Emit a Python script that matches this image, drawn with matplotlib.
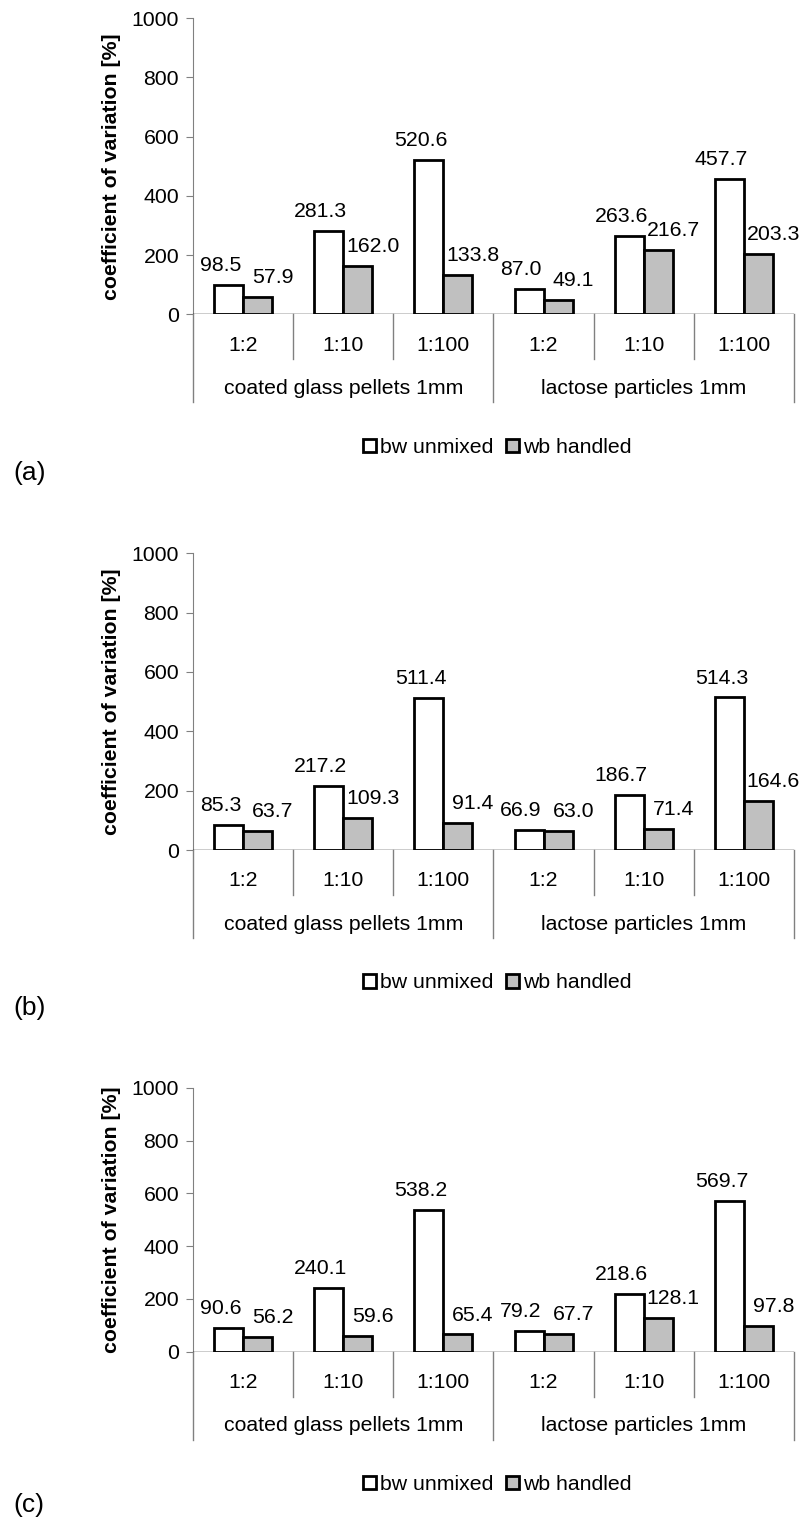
import numpy as np
import matplotlib
matplotlib.use("Agg")
import matplotlib.pyplot as plt
from matplotlib.patches import Patch

plt.rcParams['font.family'] = ['Liberation Sans', 'DejaVu Sans']

categories = ["1:2", "1:10", "1:100", "1:2", "1:10", "1:100"]
groups = ["coated glass pellets 1mm", "lactose particles 1mm"]
series_names = ["bw unmixed", "wb handled"]
panel_names = ["(a)", "(b)", "(c)"]

bw_a = [98.5, 281.3, 520.6, 87.0, 263.6, 457.7]
wb_a = [57.9, 162.0, 133.8, 49.1, 216.7, 203.3]
bw_b = [85.3, 217.2, 511.4, 66.9, 186.7, 514.3]
wb_b = [63.7, 109.3, 91.4, 63.0, 71.4, 164.6]
bw_c = [90.6, 240.1, 538.2, 79.2, 218.6, 569.7]
wb_c = [56.2, 59.6, 65.4, 67.7, 128.1, 97.8]

W, H = 806, 1533
fig = plt.figure(figsize=(W / 100, H / 100), dpi=100)

# pixel layout: (top of axis, bottom of axis, panel label y)
layout = [(18.3, 314.3, 473), (553.3, 850.0, 1008), (1087.7, 1351.7, 1505)]
data = [(bw_a, wb_a), (bw_b, wb_b), (bw_c, wb_c)]

x = np.arange(len(categories))
bw_w = 0.29
fs = 15.3
grey = "#808080"

for (top, bottom, lab_y), (bw, wb), name in zip(layout, data, panel_names):
    h = bottom - top
    ax = fig.add_axes([193 / W, 1 - bottom / H, 601 / W, h / H])
    ax.bar(x - bw_w / 2, bw, bw_w, color="white", edgecolor="black", linewidth=2, zorder=3)
    ax.bar(x + bw_w / 2, wb, bw_w, color="#c0c0c0", edgecolor="black", linewidth=2, zorder=3)

    for xi, v in zip(x, bw):
        ax.annotate(f"{v:.1f}", (xi - bw_w / 2 - 0.08, v), xytext=(0, 10), textcoords="offset points",
                    ha="center", va="baseline", fontsize=fs)
    for xi, v in zip(x, wb):
        ax.annotate(f"{v:.1f}", (xi + bw_w / 2 + 0.15, v), xytext=(0, 10), textcoords="offset points",
                    ha="center", va="baseline", fontsize=fs)

    ax.set_xlim(-0.5, 5.5)
    ax.set_ylim(0, 1000)
    ax.set_yticks(range(0, 1001, 200))
    ax.set_xticks([])
    ax.tick_params(axis="y", labelsize=fs, length=5, color=grey, pad=5)
    for s in ["top", "right", "bottom"]:
        ax.spines[s].set_visible(False)
    ax.spines["left"].set_color(grey)
    ax.axhline(0, color="black", linewidth=1, zorder=4)
    ax.set_ylabel("coefficient of variation [%]", fontsize=15.3, fontweight="bold", labelpad=8)

    # category / group table under the axis
    tr = ax.get_xaxis_transform()
    short, long_ = -45 / h, -88 / h
    ax.plot([-0.5, -0.5], [0, long_], color=grey, lw=1, transform=tr, clip_on=False)
    for b in [0.5, 1.5, 3.5, 4.5]:
        ax.plot([b, b], [0, short], color=grey, lw=1, transform=tr, clip_on=False)
    for b in [2.5, 5.5]:
        ax.plot([b, b], [0, long_], color=grey, lw=1, transform=tr, clip_on=False)
    for xi, c in zip(x, categories):
        ax.text(xi, -31 / h, c, transform=tr, ha="center", va="center", fontsize=fs)
    for gi, g in enumerate(groups):
        ax.text(1 + 3 * gi, -74 / h, g, transform=tr, ha="center", va="center", fontsize=fs)

    handles = [Patch(facecolor="white", edgecolor="black", linewidth=2),
               Patch(facecolor="#c0c0c0", edgecolor="black", linewidth=2)]
    ax.legend(handles, series_names, loc="center", bbox_to_anchor=(0.506, -133 / h), ncol=2,
              frameon=False, fontsize=fs, handlelength=0.6, handleheight=0.6, handletextpad=0.2,
              columnspacing=0.6)

    fig.text(13 / W, 1 - lab_y / H, name, ha="left", va="center", fontsize=19)

fig.savefig("out.png", dpi=100)
